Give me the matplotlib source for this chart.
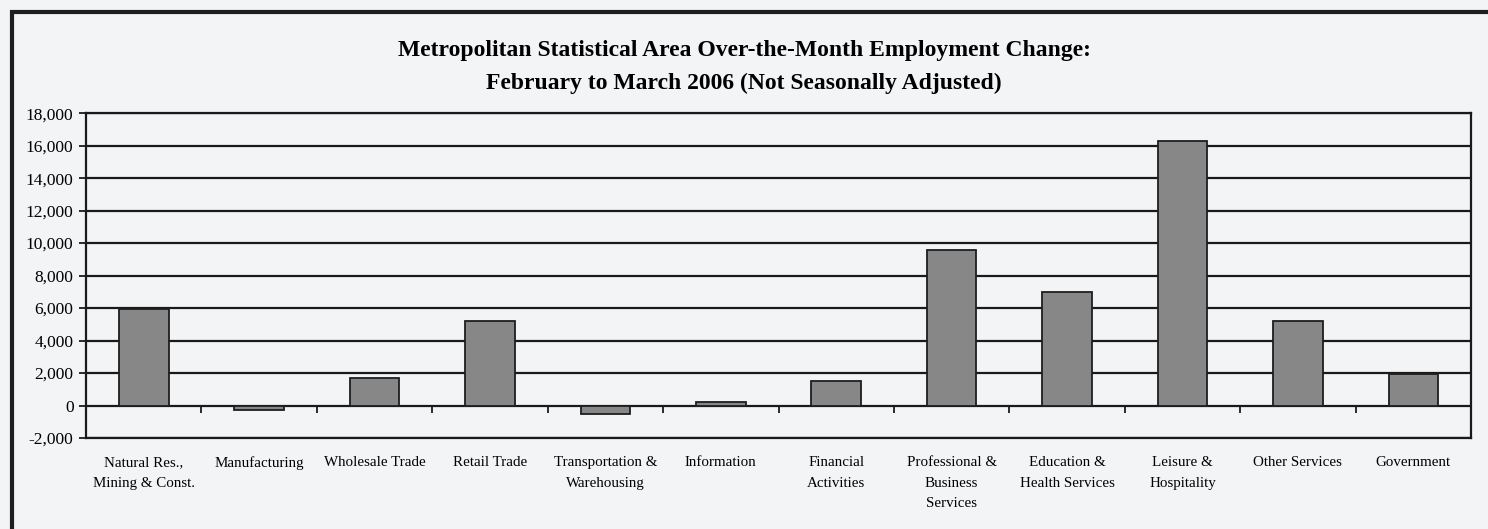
import matplotlib
matplotlib.use("Agg")
import matplotlib.pyplot as plt
import matplotlib.patches as patches
import numpy as np

# ------------------------
categories = ['Natural Res.,\nMining & Const.', 'Manufacturing', 'Wholesale Trade', 'Retail Trade',
              'Transportation &\nWarehousing', 'Information', 'Financial\nActivities',
              'Professional &\nBusiness\nServices', 'Education &\nHealth Services',
              'Leisure &\nHospitality', 'Other Services', 'Government']
changes = [5950, -300, 1700, 5200, -550, 200, 1500, 9600, 7000, 16300, 5200, 1950]
y_ticks = list(range(-2000, 18001, 2000))
title_text = ('Metropolitan Statistical Area Over-the-Month Employment Change:\n'
              'February to March 2006 (Not Seasonally Adjusted)')
# ------------------------

BG = '#f3f4f6'
plt.rcParams['font.family'] = ['Liberation Serif', 'DejaVu Serif']

fig = plt.figure(figsize=(14.88, 5.29), dpi=100)
fig.patch.set_facecolor(BG)
ax = fig.add_axes([0.0578, 0.172, 0.9308, 0.614])
ax.set_facecolor(BG)

x = np.arange(len(categories))
ax.bar(x, changes, width=0.43, color='#878787', edgecolor='#1e1e1e', linewidth=1.3, zorder=3)

ax.set_xlim(-0.5, len(categories) - 0.5)
ax.set_ylim(y_ticks[0], y_ticks[-1])
ax.set_yticks(y_ticks)
ax.set_yticklabels([f'{v:,}' for v in y_ticks], fontsize=12.5)
ax.yaxis.grid(True, color='#1a1a1a', linewidth=1.6, zorder=1)
ax.set_axisbelow(True)
ax.tick_params(axis='y', length=5, width=1.3, color='#1a1a1a', pad=4)

ax.set_xticks(x)
ax.set_xticklabels(categories, fontsize=10.8, linespacing=1.75, va='top')
ax.tick_params(axis='x', length=0, pad=13)

for side in ['left', 'right', 'top', 'bottom']:
    ax.spines[side].set_linewidth(1.6)
    ax.spines[side].set_color('#1a1a1a')

# small ticks between categories on the zero line
zero_frac = (0 - y_ticks[0]) / (y_ticks[-1] - y_ticks[0])
sec = ax.secondary_xaxis(zero_frac)
sec.set_xticks(x[:-1] + 0.5)
sec.set_xticklabels([])
sec.tick_params(axis='x', direction='out', length=5, width=1.3, color='#1a1a1a')
sec.spines['bottom'].set_visible(False)

fig.text(0.5, 0.822, title_text, ha='center', va='bottom', fontsize=17, fontweight='bold',
         linespacing=1.75)

# outer frame
frame = patches.Rectangle((12 / 1488, -0.05), 1.05, 1 - 12 / 529 + 0.05, transform=fig.transFigure,
                          fill=False, edgecolor='#1e1e1e', linewidth=3)
fig.patches.append(frame)

fig.savefig('out.png', dpi=100, facecolor=BG)
